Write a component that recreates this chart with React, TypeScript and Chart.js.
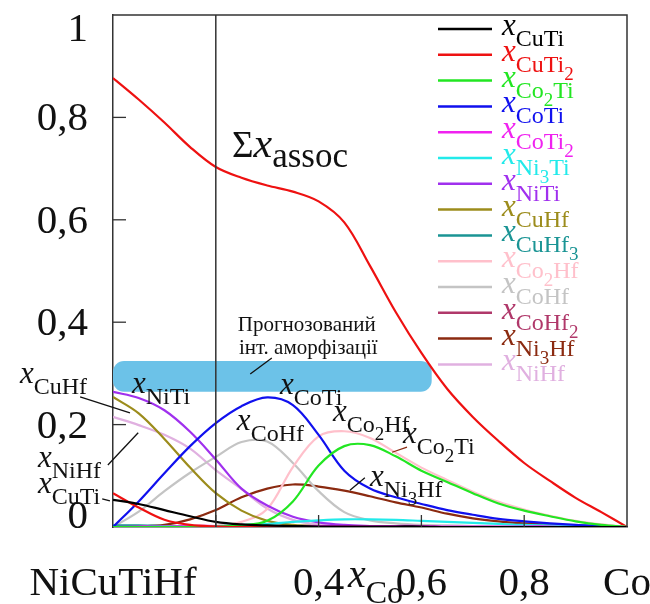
import React, { useEffect, useRef } from 'react';
import { Chart, registerables } from 'chart.js';

Chart.register(...registerables);

// ---------- data ----------
const xCo = [0, 0.05, 0.1, 0.15, 0.2, 0.25, 0.3, 0.35, 0.4, 0.45, 0.5, 0.55, 0.6, 0.65, 0.7, 0.75, 0.8, 0.85, 0.9, 0.95, 1];

const sumAssoc = [0.877, 0.835, 0.79, 0.742, 0.703, 0.682, 0.667, 0.655, 0.636, 0.595, 0.51, 0.42, 0.34, 0.27, 0.215, 0.168, 0.125, 0.09, 0.057, 0.029, 0];

const xCuTi = [0.053, 0.045, 0.033, 0.021, 0.01, 0.005, 0.003, 0.002, 0.001, 0.001, 0.001, 0.001, 0.001, 0, 0, 0, 0, 0, 0, 0, 0];
const xCuTi2 = [0.066, 0.038, 0.014, 0.004, 0.001, 0, 0, 0, 0, 0, 0, 0, 0, 0, 0, 0, 0, 0, 0, 0, 0];
const xCo2Ti = [0, 0, 0, 0, 0.001, 0.003, 0.012, 0.05, 0.12, 0.158, 0.16, 0.138, 0.11, 0.088, 0.066, 0.046, 0.032, 0.021, 0.011, 0.004, 0];
const xCoTi = [0, 0.05, 0.105, 0.158, 0.203, 0.236, 0.253, 0.238, 0.18, 0.11, 0.075, 0.058, 0.045, 0.033, 0.024, 0.016, 0.011, 0.007, 0.004, 0.002, 0];
const xCoTi2 = [0, 0.001, 0.001, 0.002, 0.002, 0.002, 0.002, 0.002, 0.002, 0.002, 0.002, 0.002, 0.002, 0.001, 0.001, 0.001, 0.001, 0.001, 0, 0, 0];
const xNi3Ti = [0, 0, 0.001, 0.001, 0.002, 0.004, 0.006, 0.01, 0.013, 0.015, 0.015, 0.014, 0.012, 0.01, 0.008, 0.006, 0.004, 0.003, 0.002, 0.001, 0];
const xNiTi = [0.264, 0.252, 0.228, 0.186, 0.132, 0.075, 0.042, 0.02, 0.009, 0.004, 0.002, 0.001, 0.001, 0, 0, 0, 0, 0, 0, 0, 0];
const xCuHf = [0.254, 0.222, 0.172, 0.116, 0.066, 0.032, 0.012, 0.004, 0.001, 0, 0, 0, 0, 0, 0, 0, 0, 0, 0, 0, 0];
const xCuHf3 = [0.003, 0.003, 0.002, 0.002, 0.001, 0.001, 0, 0, 0, 0, 0, 0, 0, 0, 0, 0, 0, 0, 0, 0, 0];
const xCo2Hf = [0, 0, 0, 0, 0.002, 0.01, 0.035, 0.117, 0.177, 0.187, 0.174, 0.145, 0.116, 0.092, 0.069, 0.049, 0.034, 0.022, 0.012, 0.005, 0];
const xCoHf = [0, 0.03, 0.07, 0.106, 0.137, 0.166, 0.167, 0.125, 0.07, 0.029, 0.013, 0.007, 0.004, 0.003, 0.002, 0.001, 0.001, 0, 0, 0, 0];
const xCoHf2 = [0, 0.001, 0.001, 0.001, 0.002, 0.002, 0.002, 0.002, 0.002, 0.001, 0.001, 0.001, 0, 0, 0, 0, 0, 0, 0, 0, 0];
const xNi3Hf = [0, 0.001, 0.004, 0.015, 0.033, 0.058, 0.075, 0.083, 0.079, 0.071, 0.06, 0.048, 0.038, 0.026, 0.017, 0.011, 0.007, 0.004, 0.002, 0.001, 0];
const xNiHf = [0.215, 0.199, 0.18, 0.153, 0.111, 0.074, 0.036, 0.014, 0.005, 0.002, 0.001, 0, 0, 0, 0, 0, 0, 0, 0, 0, 0];

const seriesNames = ['CuTi', 'CuTi2', 'Co2Ti', 'CoTi', 'CoTi2', 'Ni3Ti', 'NiTi', 'CuHf', 'CuHf3', 'Co2Hf', 'CoHf', 'CoHf2', 'Ni3Hf', 'NiHf'];
const seriesValues = [xCuTi, xCuTi2, xCo2Ti, xCoTi, xCoTi2, xNi3Ti, xNiTi, xCuHf, xCuHf3, xCo2Hf, xCoHf, xCoHf2, xNi3Hf, xNiHf];
const seriesColors = ['#000000', '#ee1111', '#22e622', '#1010ee', '#f022f0', '#22eaea', '#a030ee', '#9c8c1c', '#1a9494', '#ffc0cb', '#c4c4c4', '#b0386a', '#8b2a10', '#e0b0e0'];
const sumColor = '#ee1111';

const xTickValues = [0, 0.2, 0.4, 0.6, 0.8, 1];
const xTickLabels = ['NiCuTiHf', '', '0,4', '0,6', '0,8', 'Co'];
const yTickValues = [0, 0.2, 0.4, 0.6, 0.8, 1];
const yTickLabels = ['0', '0,2', '0,4', '0,6', '0,8', '1'];

const markerX = 0.2; // vertical reference line
const amorphX = [0, 0.62];
const amorphY = [0.264, 0.324];
const amorphText = ['Прогнозований', 'інт. аморфізації'];

// curve labels: [formula, x, y] in data units (x left, baseline of "x")
const curveLabels: [string, number, number][] = [
  ['CuHf', -0.181, 0.281],
  ['NiTi', 0.037, 0.262],
  ['NiHf', -0.146, 0.117],
  ['CuTi', -0.146, 0.066],
  ['CoTi', 0.325, 0.26],
  ['CoHf', 0.241, 0.189],
  ['Co2Hf', 0.428, 0.207],
  ['Co2Ti', 0.564, 0.164],
  ['Ni3Hf', 0.5, 0.08],
];
// leader lines in data units
const leaders: [number, number, number, number, string][] = [
  [-0.064, 0.254, 0.033, 0.223, '#111'],
  [-0.01, 0.121, 0.049, 0.184, '#111'],
  [-0.021, 0.055, -0.006, 0.051, '#111'],
  [0.543, 0.146, 0.572, 0.156, '#8b2a10'],
  [0.461, 0.072, 0.49, 0.096, '#111'],
  [0.267, 0.299, 0.309, 0.33, '#111'],
];

const SERIF = '"Liberation Serif", "Times New Roman", serif';

function drawFormula(ctx: CanvasRenderingContext2D, x: number, y: number, formula: string, color: string) {
  ctx.save();
  ctx.fillStyle = color;
  ctx.textAlign = 'left';
  ctx.textBaseline = 'alphabetic';
  ctx.font = `italic 31px ${SERIF}`;
  ctx.fillText('x', x, y);
  let cx = x + ctx.measureText('x').width;
  const parts = formula.match(/[A-Za-z]+|\d+/g) || [];
  for (const p of parts) {
    if (/\d/.test(p)) {
      ctx.font = `19px ${SERIF}`;
      ctx.fillText(p, cx, y + 19);
    } else {
      ctx.font = `24px ${SERIF}`;
      ctx.fillText(p, cx, y + 11);
    }
    cx += ctx.measureText(p).width;
  }
  ctx.restore();
}

const decorPlugin = {
  id: 'decor',
  beforeDatasetsDraw(chart: any) {
    const { ctx, scales } = chart;
    const xs = scales.x, ys = scales.y;
    const x0 = xs.getPixelForValue(amorphX[0]);
    const x1 = xs.getPixelForValue(amorphX[1]);
    const yTop = ys.getPixelForValue(amorphY[1]);
    const yBot = ys.getPixelForValue(amorphY[0]);
    ctx.save();
    ctx.fillStyle = '#6cc2e8';
    ctx.beginPath();
    (ctx as any).roundRect(x0, yTop, x1 - x0, yBot - yTop, 11);
    ctx.fill();
    ctx.restore();
  },
  afterDatasetsDraw(chart: any) {
    const { ctx, scales, chartArea } = chart;
    const xs = scales.x, ys = scales.y;
    const { left, right, top, bottom } = chartArea;
    ctx.save();
    // frame top/right
    ctx.strokeStyle = '#333';
    ctx.lineWidth = 1.5;
    ctx.beginPath();
    ctx.moveTo(left, top);
    ctx.lineTo(right, top);
    ctx.lineTo(right, bottom);
    ctx.stroke();
    // vertical marker
    const mx = xs.getPixelForValue(markerX);
    ctx.beginPath();
    ctx.moveTo(mx, top);
    ctx.lineTo(mx, bottom);
    ctx.stroke();
    // inward ticks
    ctx.lineWidth = 1.3;
    for (const v of yTickValues) {
      if (v === 0 || v === 1) continue;
      const py = ys.getPixelForValue(v);
      ctx.beginPath();
      ctx.moveTo(left, py);
      ctx.lineTo(left + 13, py);
      ctx.stroke();
    }
    for (const v of xTickValues) {
      if (v === 0 || v === 1) continue;
      const px = xs.getPixelForValue(v);
      ctx.beginPath();
      ctx.moveTo(px, bottom);
      ctx.lineTo(px, bottom - 12);
      ctx.stroke();
    }
    // y tick labels (kept inside the axis span)
    ctx.fillStyle = '#111';
    ctx.font = `41px ${SERIF}`;
    ctx.textAlign = 'right';
    ctx.textBaseline = 'alphabetic';
    yTickValues.forEach((v, i) => {
      let cy = ys.getPixelForValue(v);
      cy = Math.max(top + 13, Math.min(bottom - 12, cy));
      ctx.fillText(yTickLabels[i], left - 25, cy + 13);
    });
    // x axis title
    const tx = xs.getPixelForValue(0.457);
    ctx.textAlign = 'left';
    ctx.font = `italic 40px ${SERIF}`;
    ctx.fillText('x', tx, bottom + 60);
    const w = ctx.measureText('x').width;
    ctx.font = `32px ${SERIF}`;
    ctx.fillText('Co', tx + w, bottom + 76);

    // Σ x_assoc
    const sx = xs.getPixelForValue(0.2315);
    const sy = ys.getPixelForValue(0.723);
    ctx.font = `37px ${SERIF}`;
    ctx.fillText('Σ', sx, sy);
    let cx = sx + ctx.measureText('Σ').width;
    ctx.font = `italic 42px ${SERIF}`;
    ctx.fillText('x', cx, sy);
    cx += ctx.measureText('x').width;
    ctx.font = `35px ${SERIF}`;
    ctx.fillText('assoc', cx, sy + 10);

    // amorphization text
    ctx.font = `21px ${SERIF}`;
    ctx.textAlign = 'center';
    ctx.fillText(amorphText[0], xs.getPixelForValue(0.377), ys.getPixelForValue(0.383));
    ctx.fillText(amorphText[1], xs.getPixelForValue(0.38), ys.getPixelForValue(0.337));

    // leaders
    for (const [ax, ay, bx, by, col] of leaders) {
      ctx.strokeStyle = col;
      ctx.lineWidth = 1.3;
      ctx.beginPath();
      ctx.moveTo(xs.getPixelForValue(ax), ys.getPixelForValue(ay));
      ctx.lineTo(xs.getPixelForValue(bx), ys.getPixelForValue(by));
      ctx.stroke();
    }
    // curve labels
    for (const [f, lx, ly] of curveLabels) {
      drawFormula(ctx, xs.getPixelForValue(lx), ys.getPixelForValue(ly), f, '#111');
    }
    // legend
    const lx0 = right - 189, lx1 = right - 135, tx0 = right - 125;
    seriesNames.forEach((n, i) => {
      const y = top + 14 + i * 25.8;
      ctx.strokeStyle = seriesColors[i];
      ctx.lineWidth = 2.5;
      ctx.beginPath();
      ctx.moveTo(lx0, y);
      ctx.lineTo(lx1, y);
      ctx.stroke();
      drawFormula(ctx, tx0, y + 6, n, seriesColors[i]);
    });
    ctx.restore();
  },
};

export default function App() {
  const ref = useRef<HTMLCanvasElement>(null);
  useEffect(() => {
    if (!ref.current) return;
    const mk = (vals: number[]) => xCo.map((x, i) => ({ x, y: vals[i] }));
    const datasets: any[] = seriesNames.map((n, i) => ({
      label: n,
      data: mk(seriesValues[i]),
      borderColor: seriesColors[i],
      borderWidth: 2.2,
      pointRadius: 0,
      fill: false,
      tension: 0.35,
    }));
    datasets.push({
      label: 'Σx_assoc',
      data: mk(sumAssoc),
      borderColor: sumColor,
      borderWidth: 2.2,
      pointRadius: 0,
      fill: false,
      tension: 0.35,
    });
    const chart = new Chart(ref.current, {
      type: 'line',
      data: { datasets },
      options: {
        animation: false,
        responsive: false,
        devicePixelRatio: 1,
        layout: { padding: { top: 15, right: 23, left: 0, bottom: 0 } },
        plugins: { legend: { display: false }, tooltip: { enabled: false } },
        scales: {
          x: {
            type: 'linear',
            min: 0,
            max: 1,
            grid: { display: false },
            border: { display: true, color: '#333', width: 1.5 },
            afterBuildTicks: (s: any) => {
              s.ticks = xTickValues.map((v) => ({ value: v }));
            },
            ticks: {
              autoSkip: false,
              maxRotation: 0,
              padding: 25,
              color: '#111',
              font: { family: SERIF, size: 41 },
              callback: (_v: any, i: number) => xTickLabels[i],
            },
            afterFit: (s: any) => {
              s.height = 77;
              s.paddingLeft = 0;
              s.paddingRight = 0;
            },
          },
          y: {
            type: 'linear',
            min: 0,
            max: 1,
            grid: { display: false },
            border: { display: true, color: '#333', width: 1.5 },
            afterBuildTicks: (s: any) => {
              s.ticks = yTickValues.map((v) => ({ value: v }));
            },
            ticks: { display: false },
            afterFit: (s: any) => {
              s.width = 113;
              s.paddingTop = 0;
              s.paddingBottom = 0;
            },
          },
        },
      } as any,
      plugins: [decorPlugin],
    });
    return () => chart.destroy();
  }, []);
  return (
    <canvas
      ref={ref}
      width={650}
      height={604}
      style={{ position: 'absolute', left: 0, top: 0, width: 650, height: 604, background: '#fff' }}
    />
  );
}
